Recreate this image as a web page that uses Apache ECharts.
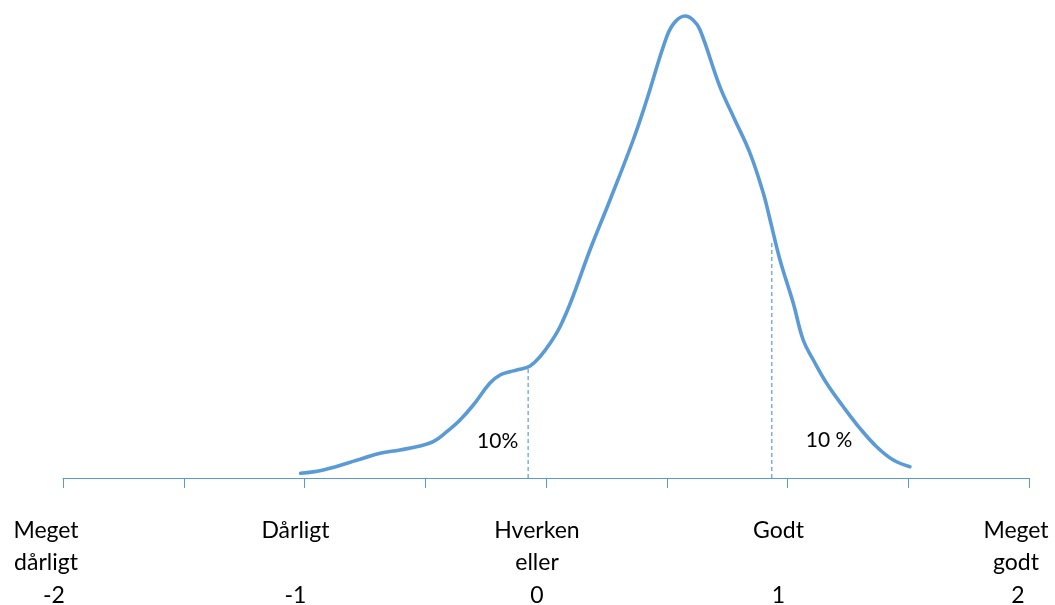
<!DOCTYPE html>
<html>
<head>
<meta charset="utf-8">
<script src="https://cdn.jsdelivr.net/npm/echarts@6/dist/echarts.min.js"></script>
<style>
html,body{margin:0;padding:0;background:#fff;}
#chart{width:1055px;height:605px;}
</style>
</head>
<body>
<div id="chart"></div>
<script>
// Density curve: x position on the -2..2 scale, height of curve (relative units)
const curveX = [-1.016,-0.922,-0.757,-0.687,-0.605,-0.522,-0.467,-0.411,-0.356,-0.301,-0.232,-0.190,-0.149,-0.108,-0.066,-0.025,0.017,0.058,0.106,0.182,0.265,0.361,0.417,0.500,0.534,0.576,0.609,0.638,0.720,0.776,0.845,0.900,0.928,0.969,1.024,1.065,1.107,1.162,1.231,1.300,1.369,1.438,1.507];
const curveY = [4.7,8,19.7,24.7,28,32,36.3,46.3,58,73,95,103,106.3,108.7,112,121.3,134.7,151.3,178,228,278,338,378,441.3,456,462,458,448,391.3,361.3,324.7,284.7,258,218,174.7,138,118,94.7,71.3,49.7,31.3,18,11.3];

// 10% cut-off lines
const cutX = [-0.074, 0.935];
const cutY = [111, 238];

// annotations
const noteText = ['10%', '10 %'];
const noteX = [-0.2, 1.172];
const noteY = [37, 38];

// axis tick labels
const tickValues = [-2, -1, 0, 1, 2];
const tickLabels = [
  ['Meget', 'dårligt', '-2'],
  ['Dårligt', '', '-1'],
  ['Hverken', 'eller', '0'],
  ['Godt', '', '1'],
  ['Meget', 'godt', '2']
];

const BLUE = '#5B9BD5';
const FONT = 'Lato';

const chart = echarts.init(document.getElementById('chart'));

const series = [{
  type: 'line',
  data: curveX.map((x, i) => [x, curveY[i]]),
  smooth: 0.4,
  symbol: 'none',
  lineStyle: { color: BLUE, width: 3.6, cap: 'round' },
  z: 3
}];
cutX.forEach((x, i) => {
  series.push({
    type: 'line',
    data: [[x, 0], [x, cutY[i]]],
    symbol: 'none',
    lineStyle: { color: BLUE, width: 1.2, type: [4, 3] },
    z: 2
  });
});
series.push({
  type: 'scatter',
  data: noteX.map((x, i) => ({ value: [x, noteY[i]], name: noteText[i] })),
  symbolSize: 1,
  itemStyle: { opacity: 0 },
  label: {
    show: true,
    position: 'inside',
    formatter: p => p.name,
    color: '#000',
    opacity: 1,
    textBorderWidth: 0,
    fontFamily: FONT,
    fontSize: 21
  },
  silent: true
});

// extra left shift for the label blocks at the two ends
const edgeStyle = (lines, idx) => {
  if (idx === 0) return ['{l1|' + lines[0] + '}', '{l1|' + lines[1] + '}', '{l0|' + lines[2] + '}'];
  if (idx === tickValues.length - 1) return ['{r1|' + lines[0] + '}', '{r1|' + lines[1] + '}', '{r0|' + lines[2] + '}'];
  return lines;
};

const richBase = { color: '#000', fontFamily: FONT, fontSize: 23, lineHeight: 32.5 };

chart.setOption({
  animation: false,
  grid: { left: 63, right: 26, top: 0, bottom: 127, containLabel: false, outerBoundsMode: 'none' },
  xAxis: {
    type: 'value',
    min: -2, max: 2, interval: 0.5,
    axisLine: { show: true, lineStyle: { color: BLUE, width: 1 } },
    axisTick: { show: true, length: 10, lineStyle: { color: BLUE, width: 1 } },
    splitLine: { show: false },
    axisLabel: {
      show: true,
      margin: 36,
      showMinLabel: true,
      showMaxLabel: true,
      hideOverlap: false,
      padding: [0, 18, 0, 0],
      color: '#000',
      fontFamily: FONT,
      fontSize: 23,
      lineHeight: 32.5,
      rich: {
        l1: Object.assign({ padding: [0, 16, 0, 0] }, richBase),
        l0: Object.assign({}, richBase),
        r1: Object.assign({ padding: [0, 8, 0, 0] }, richBase),
        r0: Object.assign({ padding: [0, 4, 0, 0] }, richBase)
      },
      formatter: v => {
        const k = tickValues.indexOf(v);
        return k < 0 ? '' : edgeStyle(tickLabels[k], k).join('\n');
      }
    }
  },
  yAxis: {
    type: 'value', min: 0, max: 478, show: false
  },
  series: series
});
</script>
</body>
</html>
